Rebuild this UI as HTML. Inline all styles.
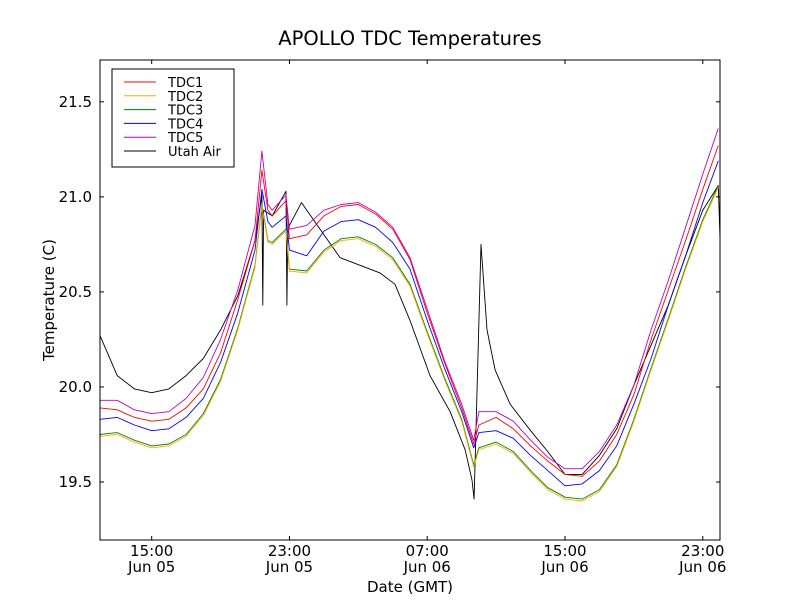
<!DOCTYPE html>
<html><head><meta charset="utf-8"><style>
body{margin:0;background:#fff;}
svg{font-family:"DejaVu Sans","Liberation Sans",sans-serif;}
</style></head><body>
<svg id="chart" width="800" height="600">
<rect x="0" y="0" width="800" height="600" fill="#fff"/>
<text x="410" y="45" font-size="19.5" text-anchor="middle">APOLLO TDC Temperatures</text>
<g id="plot"></g>
<g id="axes"></g>
<text x="410" y="592" font-size="15" text-anchor="middle">Date (GMT)</text>
<text x="54" y="300" font-size="15" text-anchor="middle" transform="rotate(-90 54 300)">Temperature (C)</text>
<g>
<rect x="112" y="69" width="122" height="98" fill="#fff" stroke="#000" stroke-width="1"/>
<g id="legend-items"></g>
</g>
</svg>
<script>
const tdcTimes=[12,13,14,15,16,17,18,19,20,21,21.4,21.75,22,22.8,23,24,25,26,27,28,29,30,31,32,33,33.7,34,35,36,37,38,39,40,41,42,43,44,45,46,47,47.9];
const tdc5=[19.93,19.93,19.88,19.86,19.87,19.94,20.05,20.25,20.51,20.85,21.24,20.96,20.93,21.01,20.83,20.85,20.93,20.96,20.97,20.92,20.84,20.68,20.41,20.14,19.91,19.72,19.87,19.87,19.82,19.72,19.63,19.57,19.57,19.66,19.80,20.01,20.30,20.56,20.84,21.12,21.36];
const tdc1=[19.89,19.88,19.84,19.82,19.83,19.89,19.99,20.18,20.46,20.77,21.14,20.93,20.90,20.98,20.78,20.80,20.90,20.95,20.96,20.91,20.83,20.67,20.39,20.13,19.89,19.70,19.80,19.84,19.78,19.69,19.61,19.54,19.53,19.61,19.75,19.96,20.25,20.51,20.77,21.04,21.27];
const tdc4=[19.83,19.84,19.80,19.77,19.78,19.84,19.94,20.13,20.39,20.72,21.04,20.87,20.84,20.90,20.72,20.69,20.82,20.87,20.88,20.84,20.76,20.62,20.35,20.10,19.87,19.68,19.76,19.77,19.73,19.64,19.56,19.48,19.49,19.56,19.69,19.91,20.15,20.43,20.69,20.97,21.19];
const tdc3=[19.75,19.76,19.72,19.69,19.70,19.75,19.86,20.04,20.31,20.64,20.96,20.77,20.76,20.83,20.62,20.61,20.72,20.78,20.79,20.75,20.68,20.54,20.29,20.05,19.83,19.59,19.68,19.71,19.66,19.56,19.47,19.42,19.41,19.46,19.59,19.83,20.10,20.36,20.63,20.88,21.06];
const tdc2=[19.74,19.75,19.71,19.68,19.69,19.74,19.85,20.03,20.30,20.63,20.95,20.76,20.75,20.82,20.61,20.60,20.71,20.77,20.78,20.74,20.67,20.53,20.28,20.04,19.82,19.58,19.67,19.70,19.65,19.55,19.46,19.41,19.40,19.45,19.58,19.82,20.09,20.35,20.62,20.87,21.05];
const airTimes=[12,13,14,15,16,17,18,19,20,21,21.4,21.45,21.5,22,22.8,22.85,22.9,23,23.7,24.78,25.94,27.1,28.26,29.13,30.0,31.16,32.33,33.2,33.6,33.72,34.12,34.47,34.94,35.81,37,38,39,40,41,42,43,44,45,46,47,47.9,48];
const airTemp=[20.27,20.06,19.99,19.97,19.99,20.06,20.15,20.30,20.48,20.77,21.01,20.43,20.93,20.90,21.03,20.43,20.80,20.85,20.97,20.83,20.68,20.64,20.60,20.54,20.35,20.06,19.87,19.67,19.51,19.41,20.75,20.30,20.09,19.91,19.77,19.66,19.54,19.54,19.64,19.78,20.01,20.22,20.43,20.69,20.93,21.06,20.78];
const yTicks=[19.5,20.0,20.5,21.0,21.5];
const yTickLabels=["19.5","20.0","20.5","21.0","21.5"];
const xTicks=[15,23,31,39,47];
const xTickLabels1=["15:00","23:00","07:00","15:00","23:00"];
const xTickLabels2=["Jun 05","Jun 05","Jun 06","Jun 06","Jun 06"];
const seriesNames=["TDC1","TDC2","TDC3","TDC4","TDC5","Utah Air"];

const L=100,R=720,T=60,B=540,X0=12,X1=48,Y0=19.195,Y1=21.72;
const sx=h=>L+(h-X0)/(X1-X0)*(R-L);
const sy=v=>B-(v-Y0)/(Y1-Y0)*(B-T);
const NS="http://www.w3.org/2000/svg";
const plot=document.getElementById('plot');
const axes=document.getElementById('axes');
function mk(tag,attrs,parent){const e=document.createElementNS(NS,tag);for(const k in attrs)e.setAttribute(k,attrs[k]);parent.appendChild(e);return e;}
const series=[
 {n:"tdc1",t:tdcTimes,v:tdc1,c:"#ff0000"},
 {n:"tdc2",t:tdcTimes,v:tdc2,c:"#ffaa00"},
 {n:"tdc3",t:tdcTimes,v:tdc3,c:"#008000"},
 {n:"tdc4",t:tdcTimes,v:tdc4,c:"#0000ff"},
 {n:"tdc5",t:tdcTimes,v:tdc5,c:"#bf00bf"},
 {n:"utah-air",t:airTimes,v:airTemp,c:"#000000"}];
const order=[5,2,1,3,0,4];
order.forEach(i=>{const s=series[i];
 const d=s.t.map((h,j)=>(j?"L":"M")+sx(h).toFixed(1)+" "+sy(s.v[j]).toFixed(1)).join(" ");
 const p=mk('path',{d:d,fill:"none",stroke:s.c,"stroke-width":"0.9","stroke-linejoin":"round"},plot);
 
 
});
const frame=mk('rect',{x:L,y:T,width:R-L,height:B-T,fill:"none",stroke:"#000","stroke-width":"1"},axes);


yTicks.forEach((v,i)=>{const y=sy(v);
 mk('line',{x1:L,x2:L+4,y1:y,y2:y,stroke:"#000"},axes);
 mk('line',{x1:R,x2:R-4,y1:y,y2:y,stroke:"#000"},axes);
 const t=mk('text',{x:L-8,y:y+5,"font-size":"15","text-anchor":"end"},axes);
 t.textContent=yTickLabels[i];
 
 
});
xTicks.forEach((h,i)=>{const x=sx(h);
 mk('line',{x1:x,x2:x,y1:B,y2:B-4,stroke:"#000"},axes);
 mk('line',{x1:x,x2:x,y1:T,y2:T+4,stroke:"#000"},axes);
 const t=mk('text',{x:x,y:B+16,"font-size":"15","text-anchor":"middle"},axes);
 t.textContent=xTickLabels1[i];
 
 
 const t2=mk('text',{x:x,y:B+32,"font-size":"15","text-anchor":"middle"},axes);
 t2.textContent=xTickLabels2[i];
 
 
});
const lg=document.getElementById('legend-items');
seriesNames.forEach((nm,i)=>{const y=82+i*13.8;
 const g=mk('g',{},lg);
 
 
 mk('line',{x1:124,x2:156,y1:y,y2:y,stroke:series[i].c,"stroke-width":"1"},g);
 const t=mk('text',{x:168,y:y+5,"font-size":"13"},g);
 t.textContent=nm;
});
</script>
</body></html>
